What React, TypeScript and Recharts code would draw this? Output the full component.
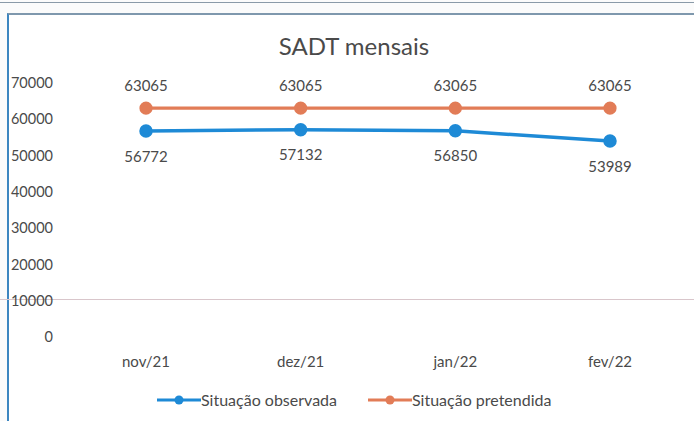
import { LabelList, Line, LineChart, XAxis, YAxis } from 'recharts'

const months = ['nov/21', 'dez/21', 'jan/22', 'fev/22']
const observada = [56772, 57132, 56850, 53989]
const pretendida = [63065, 63065, 63065, 63065]
const yTicks = [0, 10000, 20000, 30000, 40000, 50000, 60000, 70000]

const BLUE = '#1e8ad6'
const ORANGE = '#e27c57'
const TEXT = '#4a4a4a'
const FONT = 'Lato, "Open Sans", sans-serif'

const data = months.map((m, i) => ({ month: m, observada: observada[i], pretendida: pretendida[i] }))

function LegendItem({ color, label }: { color: string; label: string }) {
  return (
    <div style={{ display: 'flex', alignItems: 'center' }}>
      <svg width={44} height={12}>
        <line x1={0} y1={6} x2={44} y2={6} stroke={color} strokeWidth={3} />
        <circle cx={22} cy={6} r={4.5} fill={color} />
      </svg>
      <span>{label}</span>
    </div>
  )
}

export default function App() {
  return (
    <div style={{ position: 'fixed', left: 0, top: 0, width: 694, height: 421, background: '#fbfbfb', overflow: 'hidden', fontFamily: FONT }}>
      {/* table edge above the chart */}
      <div style={{ position: 'absolute', left: 0, top: 2, width: 694, height: 0, borderTop: '1px solid #8a9aa8' }} />
      {/* chart frame */}
      <div style={{ position: 'absolute', left: 7, top: 13, width: 700, height: 420, borderLeft: '2px solid #3d86c0', borderTop: '2px solid #7f98ad', background: '#fff' }} />
      <div style={{ position: 'absolute', left: 0, top: 299, width: 694, height: 0, borderTop: '1px solid #d9c6cb' }} />
      <div style={{ position: 'absolute', left: 0, top: 31, width: 708, textAlign: 'center', fontSize: 24, color: TEXT }}>SADT mensais</div>
      <div style={{ position: 'absolute', left: 0, top: 0 }}>
        <LineChart width={694} height={421} data={data} margin={{ top: 83, right: 7, bottom: 54, left: 0 }}>
          <XAxis
            dataKey="month"
            axisLine={false}
            tickLine={false}
            tickSize={0}
            tickMargin={19}
            height={30}
            padding={{ left: 77, right: 77 }}
            tick={{ fill: TEXT, fontSize: 15, fontFamily: FONT }}
          />
          <YAxis
            domain={[0, 70000]}
            ticks={yTicks}
            width={69}
            axisLine={false}
            tickLine={false}
            tickSize={0}
            tickMargin={16}
            tick={{ fill: TEXT, fontSize: 14.5, fontFamily: FONT }}
          />
          <Line dataKey="pretendida" stroke={ORANGE} strokeWidth={3.2} dot={{ r: 5, fill: ORANGE, stroke: ORANGE }} isAnimationActive={false}>
            <LabelList dataKey="pretendida" position="top" offset={17} fill={TEXT} fontSize={15} fontFamily={FONT} />
          </Line>
          <Line dataKey="observada" stroke={BLUE} strokeWidth={3.5} dot={{ r: 5, fill: BLUE, stroke: BLUE }} isAnimationActive={false}>
            <LabelList dataKey="observada" position="bottom" offset={20} fill={TEXT} fontSize={15} fontFamily={FONT} />
          </Line>
        </LineChart>
      </div>
      <div style={{ position: 'absolute', left: 157, top: 390, display: 'flex', gap: 31, fontSize: 16, color: TEXT }}>
        <LegendItem color={BLUE} label="Situação observada" />
        <LegendItem color={ORANGE} label="Situação pretendida" />
      </div>
    </div>
  )
}
